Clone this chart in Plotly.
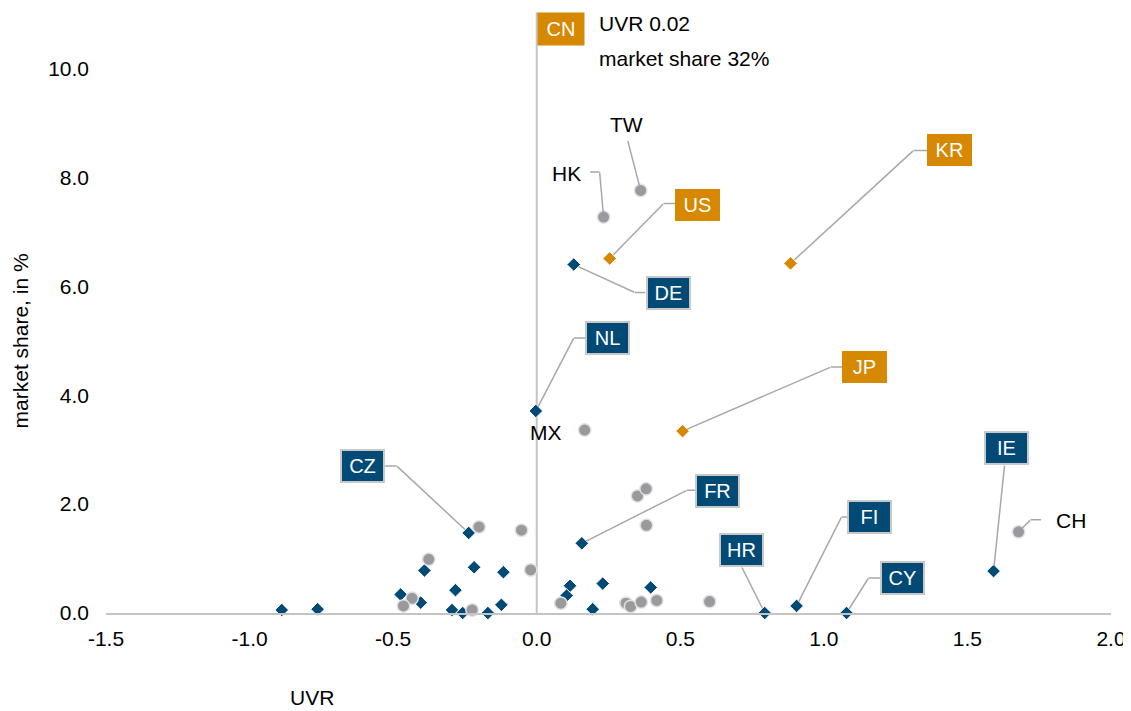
import plotly.graph_objects as go

# ---------------- data ----------------
# highlighted economies (orange)
hl_names = ["US", "KR", "JP"]
hl_uvr = [0.254, 0.884, 0.508]
hl_share = [6.51, 6.42, 3.34]

# China is off the chart (shown as note only)
cn_name = "CN"
cn_uvr = 0.02
cn_share = 32

# euro-area economies (blue diamonds)
ea_names = ["DE", "NL", "CZ", "FR", "HR", "FI", "CY", "IE",
            "", "", "", "", "", "", "", "", "", "", "", "", "", "", "", "", ""]
ea_uvr = [0.129, -0.003, -0.237, 0.157, 0.794, 0.905, 1.079, 1.591,
          -0.888, -0.763, -0.391, -0.218, -0.116, -0.283, -0.474, -0.404,
          -0.295, -0.258, -0.170, -0.123, 0.116, 0.104, 0.230, 0.195, 0.397]
ea_share = [6.40, 3.71, 1.47, 1.28, 0.0, 0.13, 0.0, 0.77,
            0.055, 0.07, 0.78, 0.84, 0.75, 0.42, 0.34, 0.19,
            0.055, 0.0, 0.0, 0.15, 0.50, 0.32, 0.54, 0.07, 0.47]

# other economies (grey circles)
ot_names = ["TW", "HK", "MX", "CH",
            "", "", "", "", "", "", "", "", "", "", "", "", "", "", "", ""]
ot_uvr = [0.362, 0.233, 0.167, 1.678,
          -0.376, -0.201, -0.053, -0.021, 0.351, 0.381, 0.382, -0.434,
          -0.464, -0.225, 0.084, 0.311, 0.327, 0.364, 0.418, 0.602]
ot_share = [7.76, 7.27, 3.36, 1.49,
            0.985, 1.58, 1.52, 0.79, 2.15, 2.28, 1.61, 0.27,
            0.13, 0.055, 0.18, 0.18, 0.12, 0.20, 0.23, 0.21]

x_ticks = [-1.5, -1.0, -0.5, 0.0, 0.5, 1.0, 1.5, 2.0]
x_tick_labels = ["-1.5", "-1.0", "-0.5", "0.0", "0.5", "1.0", "1.5", "2.0"]
y_ticks = [0, 2, 4, 6, 8, 10]
y_tick_labels = ["0.0", "2.0", "4.0", "6.0", "8.0", "10.0"]

# ---------------- styles ----------------
BLUE = "#004A75"
ORANGE = "#D68800"
GREY = "#9A9A9E"
LINE = "#A8A8A8"
FONT = "Arial, Liberation Sans, sans-serif"
FS = 21

fig = go.Figure()
fig.add_trace(go.Scatter(x=ea_uvr, y=ea_share, mode="markers", cliponaxis=False,
                         marker=dict(symbol="diamond", size=10.5, color=BLUE,
                                     line=dict(width=1, color="white")),
                         text=ea_names, hoverinfo="text+x+y", showlegend=False))
fig.add_trace(go.Scatter(x=ot_uvr, y=ot_share, mode="markers", cliponaxis=False,
                         marker=dict(symbol="circle", size=12.5, color=GREY,
                                     line=dict(width=1.5, color="#E2E2E4")),
                         text=ot_names, hoverinfo="text+x+y", showlegend=False))
fig.add_trace(go.Scatter(x=hl_uvr, y=hl_share, mode="markers", cliponaxis=False,
                         marker=dict(symbol="diamond", size=10.5, color=ORANGE,
                                     line=dict(width=1, color="white")),
                         text=hl_names, hoverinfo="text+x+y", showlegend=False))

# label layout: name -> (box offset, corner offset, edge offset) in screen pixels (y down)
box_labels = {
    "US": ((88, -54), (54, -55), (66, -55)),
    "KR": ((159, -113), (123, -113), (137, -113)),
    "JP": ((182, -64), (148, -64), (160, -64)),
    "DE": ((95, 29), (61, 28), (72, 28)),
    "NL": ((72, -73), (38, -73), (50, -73)),
    "CZ": ((-106, -67), (-72, -67), (-84, -67)),
    "FR": ((136, -52), (105, -53), (114, -53)),
    "IE": ((13, -123), (11, -106), None),
    "HR": ((-23, -63), (-23, -46), None),
    "FI": ((73, -89), (45, -89), (57, -89)),
    "CY": ((56, -35), (22, -35), (34, -35)),
}
text_labels = {
    "TW": ((-14, -66), (-13, -50), None),
    "HK": ((-37, -44), (-4, -45), (-14, -45)),
    "CH": ((52, -11), (12, -12), (23, -12)),
    "MX": ((-39, 2), None, None),
}

lookup = {}
for n, x, y in zip(hl_names, hl_uvr, hl_share):
    lookup[n] = (x, y, "hl")
for n, x, y in zip(ea_names, ea_uvr, ea_share):
    if n:
        lookup[n] = (x, y, "ea")
for n, x, y in zip(ot_names, ot_uvr, ot_share):
    if n:
        lookup[n] = (x, y, "ot")

ann = []


def connector(x, y, corner, edge):
    if corner is not None:
        ann.append(dict(x=x, y=y, xref="x", yref="y", text="", showarrow=True,
                        arrowhead=0, arrowwidth=1.5, arrowcolor=LINE,
                        ax=corner[0], ay=corner[1], standoff=5,
                        font=dict(size=1), borderpad=0))
    if edge is not None:
        ann.append(dict(x=x, y=y, xref="x", yref="y", text="", showarrow=True,
                        arrowhead=0, arrowwidth=1.5, arrowcolor=LINE,
                        xshift=corner[0], yshift=-corner[1],
                        ax=edge[0] - corner[0], ay=edge[1] - corner[1], standoff=0,
                        font=dict(size=1), borderpad=0))


for name, (box, corner, edge) in box_labels.items():
    x, y, grp = lookup[name]
    connector(x, y, corner, edge)
    if grp == "hl":
        style = dict(bgcolor=ORANGE, bordercolor=ORANGE, borderwidth=0, width=45, height=32)
    else:
        style = dict(bgcolor=BLUE, bordercolor="#C8C8C8", borderwidth=2, width=41, height=30)
    ann.append(dict(x=x, y=y, xref="x", yref="y", text=name, showarrow=False,
                    xshift=box[0], yshift=-box[1], borderpad=0,
                    font=dict(family=FONT, size=20, color="white"), **style))

for name, (pos, corner, edge) in text_labels.items():
    x, y, grp = lookup[name]
    connector(x, y, corner, edge)
    ann.append(dict(x=x, y=y, xref="x", yref="y", text=name, showarrow=False,
                    xshift=pos[0], yshift=-pos[1],
                    font=dict(family=FONT, size=FS, color="black")))

# China note (off-scale)
ann.append(dict(x=cn_uvr, y=1, xref="x", yref="paper", yanchor="top", yshift=2.5,
                xshift=19, text=cn_name, showarrow=False, borderpad=0,
                bgcolor=ORANGE, width=46, height=32,
                font=dict(family=FONT, size=20, color="white")))
ann.append(dict(x=cn_uvr, y=1, xref="x", yref="paper", yanchor="middle", xanchor="left",
                yshift=-9.5, xshift=55, text=f"UVR {cn_uvr:.2f}", showarrow=False,
                font=dict(family=FONT, size=FS, color="black")))
ann.append(dict(x=cn_uvr, y=1, xref="x", yref="paper", yanchor="middle", xanchor="left",
                yshift=-44.5, xshift=55, text=f"market share {cn_share}%", showarrow=False,
                font=dict(family=FONT, size=FS, color="black")))

# axis titles
ann.append(dict(x=0.205, y=-0.1635, xref="paper", yref="paper", text="UVR", showarrow=False,
                xanchor="center", yanchor="bottom", yshift=1, borderpad=0,
                font=dict(family=FONT, size=FS, color="black")))
ann.append(dict(x=-0.0856, y=0.455, xref="paper", yref="paper", text="market share, in %",
                textangle=-90, showarrow=False, xanchor="center", yanchor="middle",
                font=dict(family=FONT, size=FS, color="black")))

# page body has an 8px margin, so the figure is 8px smaller than the window
fig.update_layout(
    width=1123, height=703,
    margin=dict(l=98, r=20, t=5.5, b=98),
    paper_bgcolor="white", plot_bgcolor="white",
    font=dict(family=FONT, size=FS, color="black"),
    annotations=ann,
    shapes=[dict(type="line", xref="x", yref="paper", x0=0, x1=0, y0=0, y1=1.003,
                 line=dict(color="#C4C4C4", width=2), layer="below")],
    xaxis=dict(range=[-1.5, 2.0], tickvals=x_ticks, ticktext=x_tick_labels,
               showgrid=False, zeroline=False, showline=True, linecolor="#C4C4C4",
               linewidth=2, ticks="", ticklabelstandoff=6,
               tickfont=dict(family=FONT, size=FS, color="black")),
    yaxis=dict(range=[0, 11], tickvals=y_ticks, ticktext=y_tick_labels,
               showgrid=False, zeroline=False, showline=False, ticks="",
               ticklabelstandoff=16,
               tickfont=dict(family=FONT, size=FS, color="black")),
)

fig.write_html("out.html")
